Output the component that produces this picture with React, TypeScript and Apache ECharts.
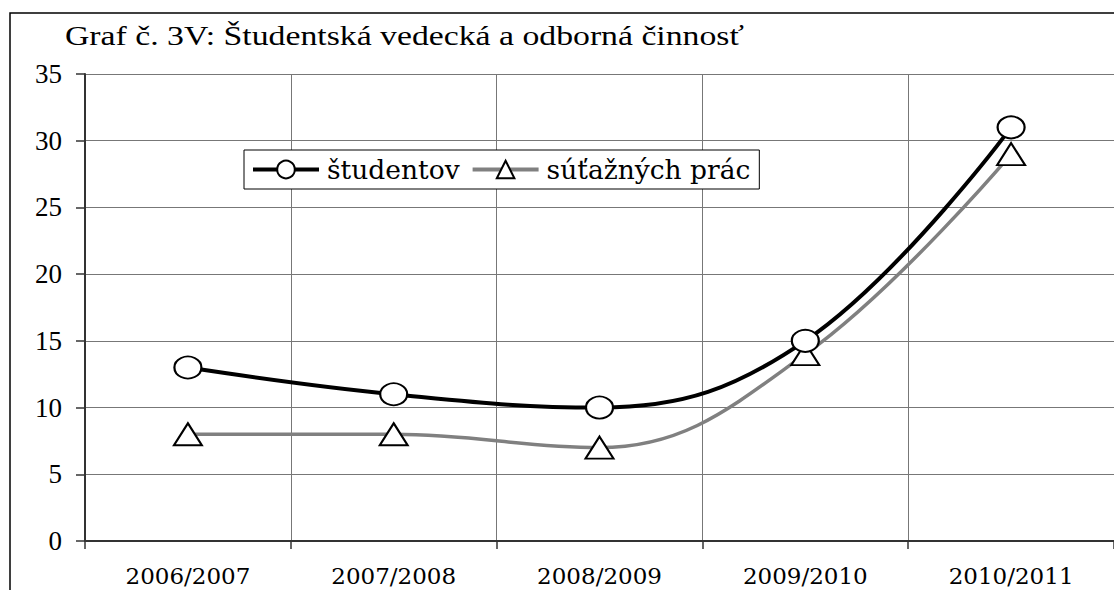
import React, { useEffect, useRef } from "react";
import * as echarts from "echarts";

const titleText = "Graf č. 3V: Študentská vedecká a odborná činnosť";
const categories = ["2006/2007", "2007/2008", "2008/2009", "2009/2010", "2010/2011"];
const studentov = [13, 11, 10, 15, 31];
const sutaznychPrac = [8, 8, 7, 14, 29];
const seriesNames = ["študentov", "súťažných prác"];

const SERIF = "Liberation Serif";
const WIDE_SERIF = "DejaVu Serif";

export default function App() {
  const ref = useRef<HTMLDivElement>(null);
  useEffect(() => {
    if (!ref.current) return;
    const chart = echarts.init(ref.current, null, { renderer: "svg" });
    chart.setOption({
      animation: false,
      backgroundColor: "#fff",
      textStyle: { fontFamily: SERIF },
      graphic: [
        {
          type: "rect",
          shape: { x: 10, y: 13, width: 1120, height: 600 },
          style: { fill: "none", stroke: "#000", lineWidth: 1.5 },
          z: 100,
        },
        {
          type: "text",
          x: 65,
          y: 36,
          scaleX: 1.25,
          style: {
            text: titleText,
            x: 0,
            y: 0,
            fill: "#000",
            font: "27px " + SERIF,
            verticalAlign: "middle",
            align: "left",
          },
          z: 100,
        },
      ],
      legend: {
        data: [
          { name: seriesNames[0], lineStyle: { width: 4 } },
          { name: seriesNames[1], lineStyle: { width: 4 } },
        ],
        left: 244,
        top: 150,
        orient: "horizontal",
        itemWidth: 66,
        itemHeight: 22,
        itemGap: 11,
        padding: [6, 9, 6, 7],
        borderColor: "#000",
        borderWidth: 1,
        backgroundColor: "#fff",
        textStyle: { fontFamily: WIDE_SERIF, fontSize: 26.5, color: "#000", padding: [0, 0, 0, 3] },
      },
      grid: { left: 85, right: -1, top: 74, bottom: 49, containLabel: false },
      xAxis: {
        type: "category",
        data: categories,
        boundaryGap: true,
        axisLine: { lineStyle: { color: "#333", width: 2 } },
        axisTick: { show: true, alignWithLabel: false, length: 8, lineStyle: { color: "#333", width: 1.5 } },
        splitLine: { show: true, lineStyle: { color: "#777", width: 1 } },
        axisLabel: { fontFamily: WIDE_SERIF, fontSize: 23, color: "#000", margin: 23 },
      },
      yAxis: {
        type: "value",
        min: 0,
        max: 35,
        interval: 5,
        axisLine: { show: true, lineStyle: { color: "#333", width: 2 } },
        axisTick: { show: true, length: 9, lineStyle: { color: "#333", width: 1.5 } },
        splitLine: { show: true, lineStyle: { color: "#777", width: 1.2 } },
        axisLabel: { fontFamily: SERIF, fontSize: 27, color: "#000", margin: 23 },
      },
      series: [
        {
          name: seriesNames[0],
          type: "line",
          data: studentov,
          smooth: 0.4,
          symbol: "circle",
          symbolSize: [27, 22],
          lineStyle: { color: "#000", width: 4 },
          itemStyle: { color: "#fff", borderColor: "#000", borderWidth: 2 },
          z: 3,
        },
        {
          name: seriesNames[1],
          type: "line",
          data: sutaznychPrac,
          smooth: 0.4,
          symbol: "triangle",
          symbolSize: [28, 22],
          lineStyle: { color: "#808080", width: 3.5 },
          itemStyle: { color: "#fff", borderColor: "#000", borderWidth: 2 },
          z: 2,
        },
      ],
    });
    return () => chart.dispose();
  }, []);
  return (
    <div
      ref={ref}
      style={{ position: "absolute", left: 0, top: 0, width: 1114, height: 590 }}
    />
  );
}
